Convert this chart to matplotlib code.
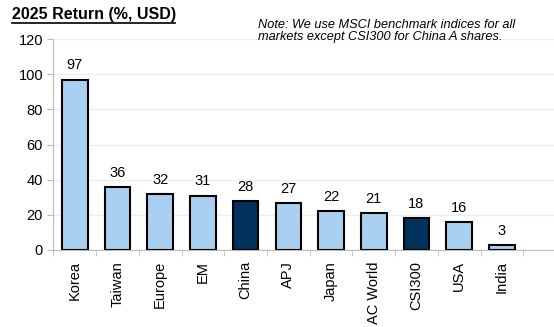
import matplotlib.pyplot as plt
import numpy as np

markets = ['Korea', 'Taiwan', 'Europe', 'EM', 'China', 'APJ', 'Japan',
           'AC World', 'CSI300', 'USA', 'India']
returns = [97, 36, 32, 31, 28, 27, 22, 21, 18, 16, 3]
dark = ['China', 'CSI300']

light_c = '#A9D0F0'
dark_c = '#00325E'

plt.rcParams['font.family'] = ['Liberation Sans', 'DejaVu Sans']

fig = plt.figure(figsize=(5.54, 3.27), dpi=100)
ax = fig.add_axes([0.0965, 0.2355, 0.9035, 0.645])

x = np.arange(len(markets))
colors = [dark_c if m in dark else light_c for m in markets]
ax.bar(x, returns, width=0.6, color=colors, edgecolor='black', linewidth=1.5, zorder=3)

for xi, v in zip(x, returns):
    ax.text(xi, v + 4, str(v), ha='center', va='bottom', fontsize=10.5)

ax.set_ylim(0, 120)
ax.set_yticks(range(0, 121, 20))
ax.set_xlim(-0.5, 11.22)
ax.set_xticks(x)
ax.set_xticklabels(markets, rotation=90, fontsize=10.5)
ax.set_xticks(np.arange(-0.5, 10.6, 1), minor=True)
ax.tick_params(axis='x', which='major', length=0, pad=8)
ax.tick_params(axis='x', which='minor', length=4, color='#BBBBBB')
ax.tick_params(axis='y', labelsize=10.5, length=4, color='#BBBBBB')

ax.grid(axis='y', color='#EEEEEE', linewidth=1, zorder=0)
for s in ['top', 'right']:
    ax.spines[s].set_visible(False)
ax.spines['left'].set_color('#BBBBBB')
ax.spines['bottom'].set_color('#BBBBBB')

fig.text(0.0217, 0.957, '2025 Return (%, USD)', fontsize=11.5, fontweight='bold', va='center')
fig.add_artist(plt.Line2D([0.0217, 0.316], [0.93, 0.93], color='black', linewidth=1.2))

fig.text(0.466, 0.906, 'Note: We use MSCI benchmark indices for all\nmarkets except CSI300 for China A shares.',
         fontsize=9.2, style='italic', va='center', linespacing=1.05)

fig.savefig('out.png', dpi=100)
